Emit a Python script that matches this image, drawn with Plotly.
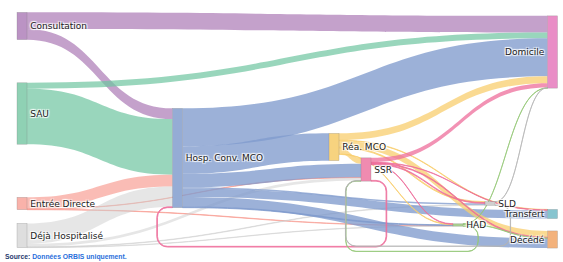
import plotly.graph_objects as go

W, H = 563, 262
MB = 10           # bottom margin (space for the source line)
HP = H - MB       # plot-area height

labels = ["Consultation", "SAU", "Entrée Directe", "Déjà Hospitalisé",
          "Hosp. Conv. MCO", "Réa. MCO", "SSR", "HAD", "SLD",
          "Domicile", "Transfert", "Décédé"]

node_colors = ["#bb93c4", "#8fd1b4", "#f9b2aa", "#dedede",
               "#95acd5", "#f7d37f", "#f08bb0", "#a9cf8f", "#cfcfcf",
               "#e98dc6", "#86c4cf", "#f3b27c"]

link_colors_src = ["rgba(176,130,186,0.75)", "rgba(110,197,160,0.7)", "rgba(248,160,150,0.7)",
                   "rgba(205,205,205,0.5)", "rgba(128,155,205,0.78)", "rgba(248,205,110,0.75)",
                   "rgba(238,110,155,0.75)", "rgba(150,200,120,0.75)", "rgba(180,180,180,0.7)",
                   "rgba(0,0,0,0)", "rgba(0,0,0,0)", "rgba(0,0,0,0)"]

# node centre positions in pixels (converted to fractions below)
node_px_x = [22, 22, 22, 22, 177.5, 334, 366, 458, 490, 552.5, 552.5, 552.5]
node_px_y = [26, 113.5, 203.5, 235.5, 158, 147, 169.5, 225, 203.5, 52, 214, 239.5]

sources = [0, 0, 1, 1, 2, 2, 2, 3, 3, 3, 3,
           4, 4, 4, 4, 4, 4, 4,
           5, 5, 5, 5, 5, 5,
           6, 6, 6, 6, 6, 6,
           7, 7, 7,
           8, 8]
targets = [9, 4, 9, 4, 4, 7, 6, 4, 6, 8, 7,
           9, 5, 6, 8, 10, 7, 11,
           9, 6, 11, 8, 10, 7,
           9, 4, 11, 8, 7, 10,
           9, 6, 11,
           9, 6]
values = [17, 11, 6, 57, 12, 0.4, 0.3, 21, 3, 0.5, 0.3,
          39, 28, 14, 1.5, 8.5, 0.8, 10,
          7, 6, 6.5, 1, 0.5, 0.5,
          4.5, 0.8, 0.8, 0.8, 0.5, 0.4,
          0.3, 0.3, 0.3,
          0.3, 0.3]

fig = go.Figure(go.Sankey(
    arrangement="fixed",
    node=dict(
        label=labels,
        color=node_colors,
        x=[v / W for v in node_px_x],
        y=[v / HP for v in node_px_y],
        pad=14,
        thickness=10,
        line=dict(color="rgba(120,120,120,0.5)", width=0.5),
    ),
    link=dict(
        source=sources,
        target=targets,
        value=values,
        color=[link_colors_src[s] for s in sources],
    ),
    textfont=dict(family="DejaVu Sans", size=9, color="#222"),
))

fig.add_annotation(
    x=0.005, y=0, xref="paper", yref="paper", xanchor="left", yanchor="top",
    yshift=1, showarrow=False,
    text="<b><span style='color:#1f3a6e'>Source:</span> <span style='color:#2a6fdb'>Données ORBIS uniquement.</span></b>",
    font=dict(family="Liberation Sans", size=6.8),
)

fig.update_layout(width=W, height=H, margin=dict(l=0, r=0, t=0, b=MB),
                  paper_bgcolor="white", plot_bgcolor="white")
fig.write_html("out.html")
